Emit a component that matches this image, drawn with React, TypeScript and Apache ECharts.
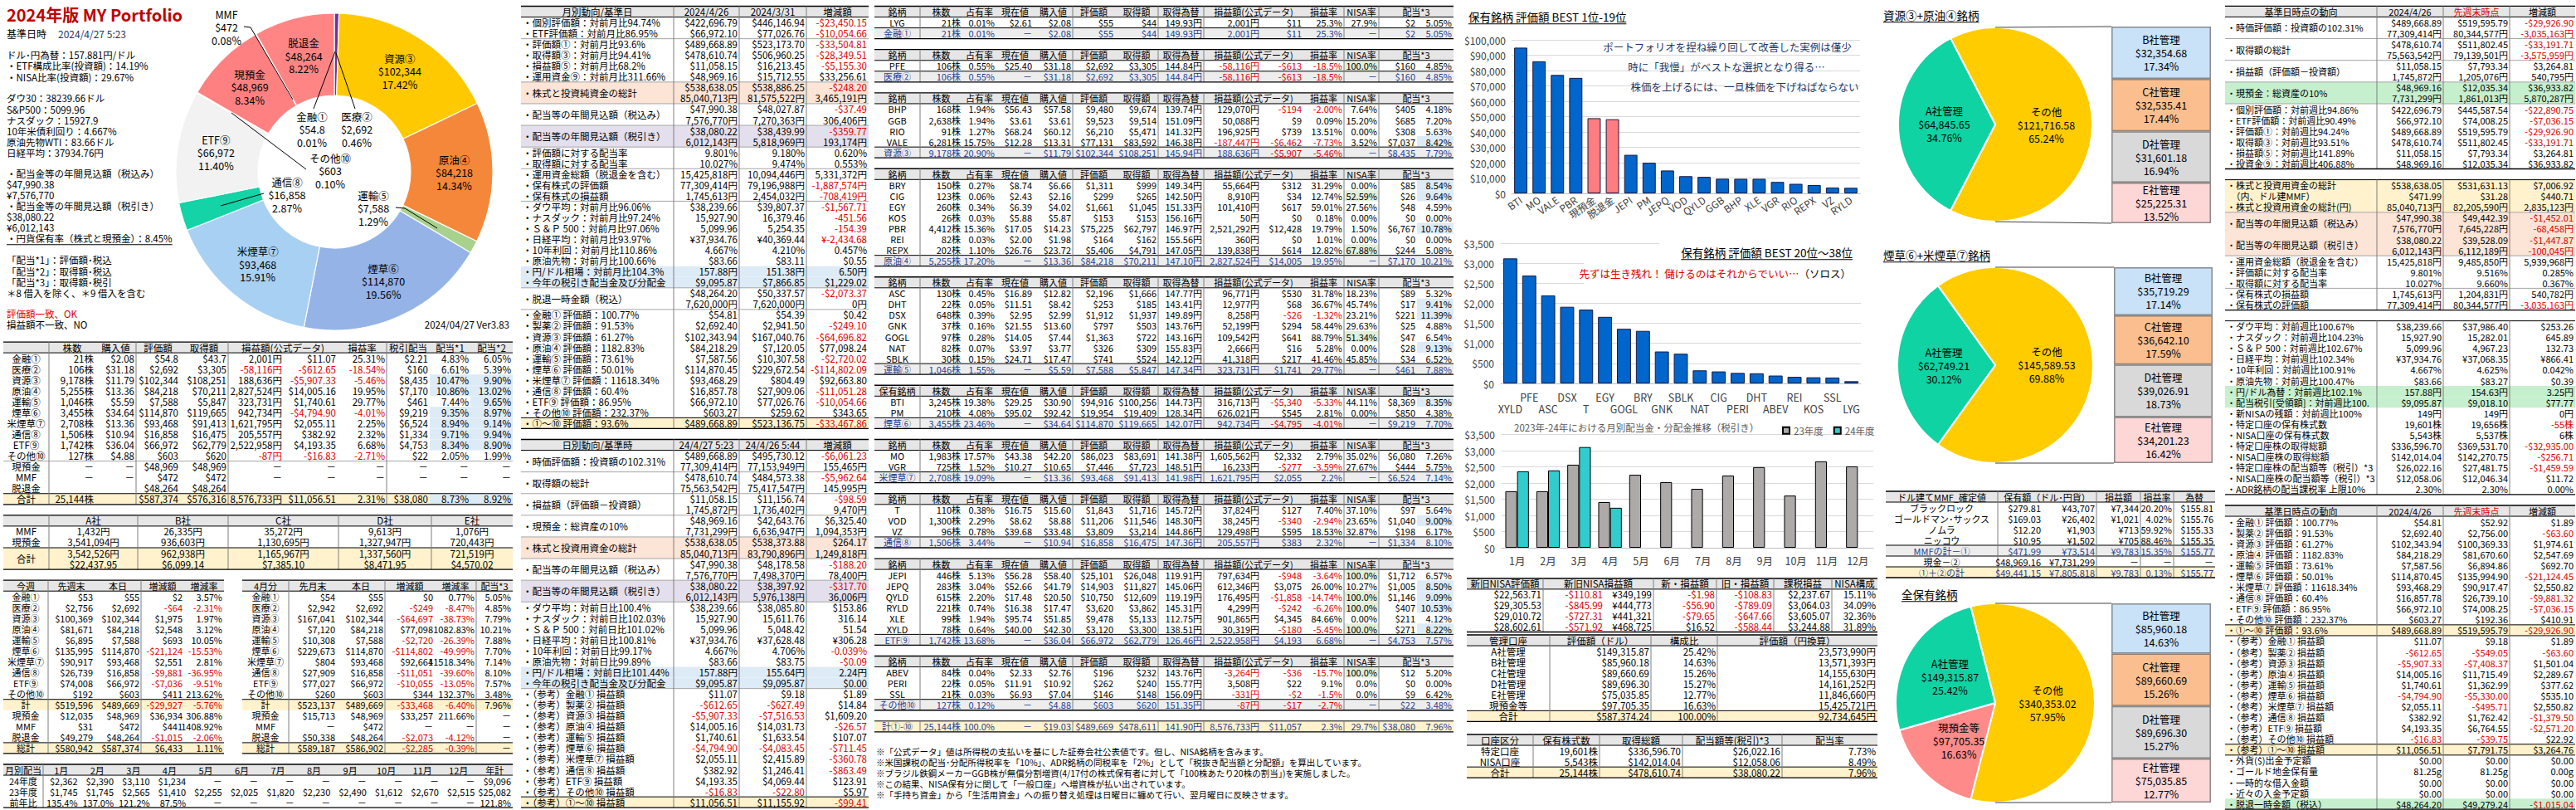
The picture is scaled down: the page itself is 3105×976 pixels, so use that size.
import React, { useEffect, useRef } from "react";
import * as echarts from "echarts";

// ================= DATA =================
const donutNames = ["金融①", "医療②", "資源③", "原油④", "運輸⑤", "煙草⑥", "米煙草⑦", "通信⑧", "ETF⑨", "その他⑩", "現預金", "MMF", "脱退金"];
const donutValues = [54.8, 2692, 102344, 84218, 7588, 114870, 93468, 16858, 66972, 603, 48969, 472, 48264];
const donutColors = ["#2E75B6", "#7030A0", "#FFC900", "#F5873A", "#A9D18E", "#95B3E6", "#A8D0F3", "#14D3A7", "#F2F2F2", "#BFBFBF", "#FF8080", "#FF8080", "#FF8585"];
const donutOutside = ["金融①", "医療②", "運輸⑤", "通信⑧", "その他⑩", "MMF"];

const best1Names = ["BTI", "MO", "VALE", "PBR", "現預金", "脱退金", "JEPI", "PM", "JEPQ", "VOD", "QYLD", "GGB", "BHP", "XLE", "VGR", "RIO", "REPX", "VZ", "RYLD"];
const best1Values = [94916, 86023, 77131, 75225, 48969, 48264, 25101, 19954, 14903, 11206, 10750, 9523, 9480, 9478, 7446, 6210, 5406, 3809, 3620];
const best1Cash = ["現預金", "脱退金"];
const best2Names = ["XYLD", "PFE", "ASC", "DSX", "T", "EGY", "GOGL", "BRY", "GNK", "SBLK", "NAT", "CIG", "PERI", "DHT", "ABEV", "REI", "KOS", "SSL", "LYG"];
const best2Values = [3120, 2692, 2196, 1912, 1843, 1661, 1363, 1311, 797, 741, 326, 299, 262, 253, 196, 164, 153, 146, 55];

const months = ["1月", "2月", "3月", "4月", "5月", "6月", "7月", "8月", "9月", "10月", "11月", "12月"];
const div23 = [1745, 1745, 2565, 1410, 2255, 2025, 1820, 2230, 2490, 1612, 2670, 2515];
const div24 = [2362, 2390, 3110, 1234];

const boxNames = ["B社管理", "C社管理", "D社管理", "E社管理"];
const pie1Names = ["その他", "A社管理"];
const pie1Values = [121716.58, 64845.65];
const box1Values = [32354.68, 32535.41, 31601.18, 25225.31];
const pie2Names = ["その他", "A社管理"];
const pie2Values = [145589.53, 62749.21];
const box2Values = [35719.29, 36642.1, 39026.91, 34201.23];
const pie3Names = ["その他", "現預金等", "A社管理"];
const pie3Values = [340353.02, 97705.35, 149315.87];
const box3Values = [85960.18, 89660.69, 89696.3, 75035.85];
const usdJpy = 157.88;

// ================= STYLE HELPERS =================
const FONT = "'Noto Sans CJK JP', 'Noto Sans', sans-serif";
const RED = "#E00000";
const NAVY = "#1F3F8F";
const GRAY = "#E7E6E6";
const YEL = "#FFF2CC";
const ORG = "#FCE4D6";
const PUR = "#E4DFEC";
const BLU = "#DDEBF7";
const GRN = "#C6EFCE";
const SUB = "#EDEDED";
const LG = "#A6A6A6";
const RH = 13.05;
const rowY = (k: number) => 7.5 + RH * k;

let mctx: any = null;
function textW(t: string, fs: number, bold = false) {
  if (!mctx) mctx = document.createElement("canvas").getContext("2d");
  mctx.font = `${bold ? "bold " : ""}${fs}px ${FONT}`;
  return mctx.measureText(t).width;
}
function T(text: string, x: number, y: number, align: string, fill: string, fs: number, o: any = {}) {
  const style: any = {
    text, fill, font: `${o.bold ? "bold " : ""}${fs}px ${FONT}`,
    align, verticalAlign: "middle", textAlign: align, textVerticalAlign: "middle",
  };
  if (o.w) { style.width = o.w; style.overflow = "truncate"; style.ellipsis = ""; }
  return { type: "text", x, y, z: o.z ?? 10, silent: true, style };
}
const Rc = (x: number, y: number, w: number, h: number, fill: string, z = 1) => ({ type: "rect", silent: true, z, shape: { x, y, width: w, height: h }, style: { fill } });
const Ln = (x1: number, y1: number, x2: number, y2: number, stroke: string, lw = 1, z = 5) => ({ type: "line", silent: true, z, shape: { x1, y1, x2, y2 }, style: { stroke, lineWidth: lw } });
const PL = (pts: number[][]) => ({ type: "polyline", silent: true, z: 6, shape: { points: pts }, style: { stroke: "#000", lineWidth: 1, fill: null } });
function UT(text: string, x: number, y: number, fs: number, color = "#000") {
  const w = textW(text, fs);
  return [T(text, x, y, "left", color, fs), Ln(x, y + fs / 2 + 2, x + w, y + fs / 2 + 2, color, 1)];
}

interface Row { c: string[]; sp?: number[]; fill?: string; col?: string; h?: number; hdr?: boolean; bl?: string; tl?: string; hc?: (string | null)[]; }
const r = (s: string, o: any = {}): Row => ({ c: s.split("|"), ...o });

function tbl(cols: number[], y0: number, rh: number, rows: Row[], al: string, opt: any = {}) {
  const fs = opt.fs ?? 11.5;
  const rects: any[] = [], lines: any[] = [], texts: any[] = [];
  const xL = cols[0], xR = cols[cols.length - 1];
  let y = y0;
  for (const rw of rows) {
    const h = (rw.h ?? 1) * rh;
    if (rw.fill) rects.push(Rc(xL, y, xR - xL, h, rw.fill));
    let ci = 0;
    rw.c.forEach((raw, k) => {
      const span = rw.sp?.[k] ?? 1;
      const x1 = cols[Math.min(ci, cols.length - 1)];
      const x2 = cols[Math.min(ci + span, cols.length - 1)];
      let t = raw, f: string | undefined;
      if (t.endsWith("#g")) { t = t.slice(0, -2); f = "#E2EFDA"; }
      else if (t.endsWith("#b")) { t = t.slice(0, -2); f = BLU; }
      if (f) rects.push(Rc(x1, y, x2 - x1, h, f, 2));
      const a = rw.hdr ? "c" : (al[ci] ?? "r");
      const ls = t.split("\n");
      ls.forEach((ln, li) => {
        if (!ln) return;
        const cy = ls.length === 1 ? y + h / 2 : y + rh * (li + 0.5);
        const explicit = rw.hc && rw.hc[k];
        let color = explicit || rw.col || "#000";
        if (!explicit && /^(-|−|¥-)/.test(ln) && ln.length > 1) color = RED;
        const tx = a === "l" ? x1 + 2 : a === "c" ? (x1 + x2) / 2 : x2 - 2;
        texts.push(T(ln, tx, cy, a === "l" ? "left" : a === "c" ? "center" : "right", color, fs, a === "l" ? { w: x2 - x1 - 3 } : {}));
      });
      ci += span;
    });
    if (rw.hdr) { lines.push(Ln(xL, y, xR, y, "#000", 1.3)); lines.push(Ln(xL, y + h, xR, y + h, "#000", 1)); }
    if (rw.tl) lines.push(Ln(xL, y, xR, y, rw.tl, 1));
    if (rw.bl) lines.push(Ln(xL, y + h, xR, y + h, rw.bl, 1));
    y += h;
  }
  (opt.v || []).forEach((x: number) => lines.push(Ln(x, y0, x, y, "#7F7F7F", 1)));
  lines.push(Ln(xL, y, xR, y, "#000", 1.3));
  return [...rects, ...lines, ...texts];
}

const usd0 = (v: number) => "$" + Math.round(v).toLocaleString("en-US");
const usd2 = (v: number) => "$" + v.toLocaleString("en-US", { minimumFractionDigits: 2, maximumFractionDigits: 2 });
const donutMoney = (v: number) => (v < 100 ? "$" + v.toFixed(1) : usd0(v));

// ================= TABLE DATA =================
const underDonutRows = [
  "金融①|21株|$2.08|$54.8|$43.7|2,001円|$11.07|25.31%|$2.21|4.83%|6.05%",
  "医療②|106株|$31.18|$2,692|$3,305|-58,116円|-$612.65|-18.54%|$160|6.61%|5.39%",
  "資源③|9,178株|$11.79|$102,344|$108,251|188,636円|-$5,907.33|-5.46%|$8,435|10.47%#b|9.90%#b",
  "原油④|5,255株|$13.36|$84,218|$70,211|2,827,524円|$14,005.16|19.95%|$7,170|10.86%#b|13.02%#b",
  "運輸⑤|1,046株|$5.59|$7,588|$5,847|323,731円|$1,740.61|29.77%|$461|7.44%|9.65%#b",
  "煙草⑥|3,455株|$34.64|$114,870|$119,665|942,734円|-$4,794.90|-4.01%|$9,219|9.35%#b|8.97%#b",
  "米煙草⑦|2,708株|$13.36|$93,468|$91,413|1,621,795円|$2,055.11|2.25%|$6,524|8.94%#b|9.14%#b",
  "通信⑧|1,506株|$10.94|$16,858|$16,475|205,557円|$382.92|2.32%|$1,334|9.71%#b|9.94%#b",
  "ETF⑨|1,742株|$36.04|$66,972|$62,779|2,522,958円|$4,193.35|6.68%|$4,753|8.34%#b|8.90%#b",
  "その他⑩|127株|$4.88|$603|$620|-87円|-$16.83|-2.71%|$22|2.05%|1.99%",
  "現預金|－|－|$48,969|$48,969|－|－|－|－|－|－",
  "MMF|－|－|$472|$472|－|－|－|－|－|－",
  "脱退金|||$48,264|$48,264||||||",
];
const underDonutTotal = "合計|25,144株||$587,374|$576,316|8,576,733円|$11,056.51|2.31%|$38,080|8.73%#b|8.92%#b";
const companyCash = [
  "MMF|1,432円|26,335円|35,272円|9,613円|1,076円",
  "現預金|3,541,094円|936,603円|1,130,695円|1,327,947円|720,443円",
  "合計|3,542,526円\n$22,437.95|962,938円\n$6,099.14|1,165,967円\n$7,385.10|1,337,560円\n$8,471.95|721,519円\n$4,570.02",
];
const weeklyRows = [
  "金融①|$53|$55|$2|3.57%", "医療②|$2,756|$2,692|-$64|-2.31%", "資源③|$100,369|$102,344|$1,975|1.97%",
  "原油④|$81,671|$84,218|$2,548|3.12%", "運輸⑤|$6,895|$7,588|$693|10.05%", "煙草⑥|$135,995|$114,870|-$21,124|-15.53%",
  "米煙草⑦|$90,917|$93,468|$2,551|2.81%", "通信⑧|$26,739|$16,858|-$9,881|-36.95%", "ETF⑨|$74,008|$66,972|-$7,036|-9.51%",
  "その他⑩|$192|$603|$411|213.62%",
];
const weeklyTail = ["計|$519,596|$489,669|-$29,927|-5.76%", "現預金|$12,035|$48,969|$36,934|306.88%", "MMF|$31|$472|$441|1408.92%", "脱退金|$49,279|$48,264|-$1,015|-2.06%", "総計|$580,942|$587,374|$6,433|1.11%"];
const monthlyCatRows = [
  "金融①|$54|$55|$0|0.77%|5.05%", "医療②|$2,942|$2,692|-$249|-8.47%|4.85%", "資源③|$167,041|$102,344|-$64,697|-38.73%|7.79%",
  "原油④|$7,120|$84,218|$77,098|1082.83%|10.21%", "運輸⑤|$10,308|$7,588|-$2,720|-26.39%|7.88%", "煙草⑥|$229,673|$114,870|-$114,802|-49.99%|7.70%",
  "米煙草⑦|$804|$93,468|$92,664|11518.34%|7.14%", "通信⑧|$27,909|$16,858|-$11,051|-39.60%|8.10%", "ETF⑨|$77,027|$66,972|-$10,055|-13.05%|7.57%",
  "その他⑩|$260|$603|$344|132.37%|3.48%",
];
const monthlyCatTail = ["計|$523,137|$489,669|-$33,468|-6.40%|7.96%", "現預金|$15,713|$48,969|$33,257|211.66%|－", "MMF|－|$472|－|－|－", "脱退金|$50,338|$48,264|-$2,073|-4.12%|－", "総計|$589,187|$586,902|-$2,285|-0.39%|－"];

const midMonthly: Row[] = [
  { c: ["月別動向/基準日", "2024/4/26", "2024/3/31", "増減額"], hdr: true, fill: GRAY },
  r("・個別評価額：対前月比94.74%|$422,696.79|$446,146.94|-$23,450.15"),
  r("・ETF評価額：対前月比86.95%|$66,972.10|$77,026.76|-$10,054.66", { bl: LG }),
  r("・評価額①：対前月比93.6%|$489,668.89|$523,173.70|-$33,504.81"),
  r("・取得額③：対前月比94.41%|$478,610.74|$506,960.25|-$28,349.51"),
  r("・損益額⑤：対前月比68.2%|$11,058.15|$16,213.45|-$5,155.30"),
  r("・運用資金⑨：対前月比311.66%|$48,969.16|$15,712.55|$33,256.61", { bl: LG }),
  r("・株式と投資純資金の総計|$538,638.05\n85,040,713円|$538,886.25\n81,575,522円|-$248.20\n3,465,191円", { h: 2, fill: ORG, bl: LG }),
  r("・配当等の年間見込額（税込み）|$47,990.38\n7,576,770円|$48,027.87\n7,270,363円|-$37.49\n306,406円", { h: 2, bl: LG }),
  r("・配当等の年間見込額（税引き）|$38,080.22\n6,012,143円|$38,439.99\n5,818,969円|-$359.77\n193,174円", { h: 2, fill: PUR, bl: LG }),
  r("・評価額に対する配当率|9.801%|9.180%|0.620%"),
  r("・取得額に対する配当率|10.027%|9.474%|0.553%", { bl: LG }),
  r("・運用資金総額（脱退金を含む）|15,425,818円|10,094,446円|5,331,372円"),
  r("・保有株式の評価額|77,309,414円|79,196,988円|-1,887,574円"),
  r("・保有株式の損益額|1,745,613円|2,454,032円|-708,419円", { bl: LG }),
  r("・ダウ平均：対前月比96.06%|$38,239.66|$39,807.37|-$1,567.71"),
  r("・ナスダック：対前月比97.24%|15,927.90|16,379.46|-451.56"),
  r("・Ｓ＆Ｐ 500：対前月比97.06%|5,099.96|5,254.35|-154.39"),
  r("・日経平均：対前月比93.97%|¥37,934.76|¥40,369.44|¥-2,434.68"),
  r("・10年利回：対前月比110.86%|4.667%|4.210%|0.457%"),
  r("・原油先物：対前月比100.66%|$83.66|$83.11|$0.55"),
  r("・円/ドル相場：対前月比104.3%|157.88円|151.38円|6.50円", { fill: BLU }),
  r("・今年の税引き配当金及び分配金|$9,095.87|$7,866.85|$1,229.02", { fill: BLU, bl: LG }),
  r("・脱退一時金額（税込）|$48,264.20\n7,620,000円|$50,337.57\n7,620,000円|-$2,073.37\n0円", { h: 2, bl: LG }),
  r("・金融① 評価額：100.77%|$54.81|$54.39|$0.42"),
  r("・製薬② 評価額：91.53%|$2,692.40|$2,941.50|-$249.10"),
  r("・資源③ 評価額：61.27%|$102,343.94|$167,040.76|-$64,696.82"),
  r("・原油④ 評価額：1182.83%|$84,218.29|$7,120.05|$77,098.24"),
  r("・運輸⑤ 評価額：73.61%|$7,587.56|$10,307.58|-$2,720.02"),
  r("・煙草⑥ 評価額：50.01%|$114,870.45|$229,672.54|-$114,802.09"),
  r("・米煙草⑦ 評価額：11618.34%|$93,468.29|$804.49|$92,663.80"),
  r("・通信⑧ 評価額：60.4%|$16,857.78|$27,909.06|-$11,051.28"),
  r("・ETF⑨ 評価額：86.95%|$66,972.10|$77,026.76|-$10,054.66"),
  r("・その他⑩ 評価額：232.37%|$603.27|$259.62|$343.65"),
  r("・①～⑩ 評価額：93.6%|$489,668.89|$523,136.75|-$33,467.86", { fill: YEL, tl: "#000" }),
];
const midDaily: Row[] = [
  { c: ["日別動向/基準時", "24/4/27 5:23", "24/4/26 5:44", "増減額"], hdr: true, fill: GRAY },
  r("・時価評価額：投資額の102.31%|$489,668.89\n77,309,414円|$495,730.12\n77,153,949円|-$6,061.23\n155,465円", { h: 2, bl: LG }),
  r("・取得額の総計|$478,610.74\n75,563,542円|$484,573.38\n75,417,547円|-$5,962.64\n145,995円", { h: 2, bl: LG }),
  r("・損益額（評価額－投資額）|$11,058.15\n1,745,872円|$11,156.74\n1,736,402円|-$98.59\n9,470円", { h: 2, bl: LG }),
  r("・現預金：総資産の10%|$48,969.16\n7,731,299円|$42,643.76\n6,636,947円|$6,325.40\n1,094,353円", { h: 2, bl: LG }),
  r("・株式と投資用資金の総計|$538,638.05\n85,040,713円|$538,373.88\n83,790,896円|$264.17\n1,249,818円", { h: 2, fill: ORG, bl: LG }),
  r("・配当等の年間見込額（税込み）|$47,990.38\n7,576,770円|$48,178.58\n7,498,370円|-$188.20\n78,400円", { h: 2, bl: LG }),
  r("・配当等の年間見込額（税引き）|$38,080.22\n6,012,143円|$38,397.92\n5,976,138円|-$317.70\n36,006円", { h: 2, fill: PUR, bl: LG }),
  r("・ダウ平均：対前日比100.4%|$38,239.66|$38,085.80|$153.86"),
  r("・ナスダック：対前日比102.03%|15,927.90|15,611.76|316.14"),
  r("・Ｓ＆Ｐ 500：対前日比101.02%|5,099.96|5,048.42|51.54"),
  r("・日経平均：対前日比100.81%|¥37,934.76|¥37,628.48|¥306.28"),
  r("・10年利回：対前日比99.17%|4.667%|4.706%|-0.039%"),
  r("・原油先物：対前日比99.89%|$83.66|$83.75|-$0.09"),
  r("・円/ドル相場：対前日比101.44%|157.88円|155.64円|2.24円", { fill: BLU }),
  r("・今年の税引き配当金及び分配金|$9,095.87|$9,095.87|$0.00", { fill: BLU, bl: LG }),
  r("・（参考）金融① 損益額|$11.07|$9.18|$1.89"),
  r("・（参考）製薬② 損益額|-$612.65|-$627.49|$14.84"),
  r("・（参考）資源③ 損益額|-$5,907.33|-$7,516.53|$1,609.20"),
  r("・（参考）原油④ 損益額|$14,005.16|$14,031.73|-$26.57"),
  r("・（参考）運輸⑤ 損益額|$1,740.61|$1,633.54|$107.07"),
  r("・（参考）煙草⑥ 損益額|-$4,794.90|-$4,083.45|-$711.45"),
  r("・（参考）米煙草⑦ 損益額|$2,055.11|$2,415.89|-$360.78"),
  r("・（参考）通信⑧ 損益額|$382.92|$1,246.41|-$863.49"),
  r("・（参考）ETF⑨ 損益額|$4,193.35|$4,069.44|$123.91"),
  r("・（参考）その他⑩ 損益額|-$16.83|-$22.80|$5.97"),
  r("・（参考）①～⑩ 損益額|$11,056.51|$11,155.92|-$99.41", { fill: YEL, tl: "#000" }),
];

const STK_COLS = [1054, 1109, 1160, 1201, 1246, 1293, 1344, 1396, 1451, 1520, 1571, 1620, 1662, 1708, 1752];
const STK_HDR = ["銘柄", "株数", "占有率", "現在値", "購入値", "評価額", "取得額", "取得為替", "損益額(公式データ)", "損益率", "NISA率", "配当*3"];
const STK_SP = [1, 1, 1, 1, 1, 1, 1, 1, 2, 1, 1, 2];
const stkFinance = [
  "LYG|21株|0.01%|$2.61|$2.08|$55|$44|149.93円|2,001円|$11|25.3%|27.9%|$2|5.05%",
  "金融①|21株|0.01%|－|$2.08|$55|$44|149.93円|2,001円|$11|25.3%|－|$2|5.05%"];
const stkHealth = [
  "PFE|106株|0.55%|$25.40|$31.18|$2,692|$3,305|144.84円|-58,116円|-$613|-18.5%|100.0%#g|$160|4.85%",
  "医療②|106株|0.55%|－|$31.18|$2,692|$3,305|144.84円|-58,116円|-$613|-18.5%|－|$160|4.85%"];
const stkResource = [
  "BHP|168株|1.94%|$56.43|$57.58|$9,480|$9,674|139.74円|129,070円|-$194|-2.00%|7.64%|$405|4.18%",
  "GGB|2,638株|1.94%|$3.61|$3.61|$9,523|$9,514|151.09円|50,088円|$9|0.09%|15.20%|$685|7.20%",
  "RIO|91株|1.27%|$68.24|$60.12|$6,210|$5,471|141.32円|196,925円|$739|13.51%|0.00%|$308|5.63%",
  "VALE|6,281株|15.75%|$12.28|$13.31|$77,131|$83,592|146.38円|-187,447円|-$6,462|-7.73%|3.52%|$7,037|8.42%#b",
  "資源③|9,178株|20.90%|－|$11.79|$102,344|$108,251|145.94円|188,636円|-$5,907|-5.46%|－|$8,435|7.79%"];
const stkOil = [
  "BRY|150株|0.27%|$8.74|$6.66|$1,311|$999|149.34円|55,664円|$312|31.29%|0.00%|$85|8.54%#b",
  "CIG|123株|0.06%|$2.43|$2.16|$299|$265|142.50円|8,910円|$34|12.74%|52.59%#g|$26|9.64%#b",
  "EGY|260株|0.34%|$6.39|$4.02|$1,661|$1,045|151.33円|101,410円|$617|59.01%|27.56%|$48|4.59%",
  "KOS|26株|0.03%|$5.88|$5.87|$153|$153|156.16円|50円|$0|0.18%|0.00%|$0|0.00%",
  "PBR|4,412株|15.36%|$17.05|$14.23|$75,225|$62,797|146.97円|2,521,292円|$12,428|19.79%|1.50%|$6,767|10.78%#b",
  "REI|82株|0.03%|$2.00|$1.98|$164|$162|155.56円|360円|$0|1.01%|0.00%|$0|0.00%",
  "REPX|202株|1.10%|$26.76|$23.72|$5,406|$4,791|147.05円|139,838円|$614|12.82%|67.88%#g|$244|5.08%",
  "原油④|5,255株|17.20%|－|$13.36|$84,218|$70,211|147.10円|2,827,524円|$14,005|19.95%|－|$7,170|10.21%"];
const stkShip = [
  "ASC|130株|0.45%|$16.89|$12.82|$2,196|$1,666|147.77円|96,771円|$530|31.78%|18.23%|$89|5.32%",
  "DHT|22株|0.05%|$11.51|$8.42|$253|$185|143.41円|12,977円|$68|36.67%|45.74%|$17|9.41%#b",
  "DSX|648株|0.39%|$2.95|$2.99|$1,912|$1,937|149.89円|8,258円|-$26|-1.32%|23.21%|$221|11.39%#b",
  "GNK|37株|0.16%|$21.55|$13.60|$797|$503|143.76円|52,199円|$294|58.44%|29.63%|$25|4.88%",
  "GOGL|97株|0.28%|$14.05|$7.44|$1,363|$722|143.16円|109,542円|$641|88.79%|51.34%#g|$47|6.54%",
  "NAT|82株|0.07%|$3.97|$3.77|$326|$309|155.83円|2,666円|$16|5.28%|0.00%|$28|9.13%#b",
  "SBLK|30株|0.15%|$24.71|$17.47|$741|$524|142.12円|41,318円|$217|41.46%|45.85%|$34|6.52%",
  "運輸⑤|1,046株|1.55%|－|$5.59|$7,588|$5,847|147.34円|323,731円|$1,741|29.77%|－|$461|7.88%"];
const stkTobacco = [
  "BTI|3,245株|19.38%|$29.25|$30.90|$94,916|$100,256|144.73円|316,713円|-$5,340|-5.33%|44.11%|$8,369|8.35%#b",
  "PM|210株|4.08%|$95.02|$92.42|$19,954|$19,409|128.34円|626,021円|$545|2.81%|0.00%|$850|4.38%",
  "煙草⑥|3,455株|23.46%|－|$34.64|$114,870|$119,665|142.07円|942,734円|-$4,795|-4.01%|－|$9,219|7.70%"];
const stkUsTobacco = [
  "MO|1,983株|17.57%|$43.38|$42.20|$86,023|$83,691|141.38円|1,605,562円|$2,332|2.79%|35.02%|$6,080|7.26%",
  "VGR|725株|1.52%|$10.27|$10.65|$7,446|$7,723|148.51円|16,233円|-$277|-3.59%|27.67%|$444|5.75%",
  "米煙草⑦|2,708株|19.09%|－|$13.36|$93,468|$91,413|141.98円|1,621,795円|$2,055|2.2%|－|$6,524|7.14%"];
const stkTelecom = [
  "T|110株|0.38%|$16.75|$15.60|$1,843|$1,716|145.72円|37,824円|$127|7.40%|37.10%|$97|5.64%",
  "VOD|1,300株|2.29%|$8.62|$8.88|$11,206|$11,546|148.30円|38,245円|-$340|-2.94%|23.65%|$1,040|9.00%#b",
  "VZ|96株|0.78%|$39.68|$33.48|$3,809|$3,214|144.86円|129,498円|$595|18.53%|32.87%|$198|6.17%",
  "通信⑧|1,506株|3.44%|－|$10.94|$16,858|$16,475|147.36円|205,557円|$383|2.32%|－|$1,334|8.10%"];
const stkEtf = [
  "JEPI|446株|5.13%|$56.28|$58.40|$25,101|$26,048|119.91円|797,634円|-$948|-3.64%|100.0%#g|$1,712|6.57%",
  "JEPQ|283株|3.04%|$52.66|$41.79|$14,903|$11,827|145.06円|612,346円|$3,075|26.00%|10.27%|$1,005|8.50%#b",
  "QYLD|615株|2.20%|$17.48|$20.50|$10,750|$12,609|119.19円|176,495円|-$1,858|-14.74%|100.0%#g|$1,146|9.09%#b",
  "RYLD|221株|0.74%|$16.38|$17.47|$3,620|$3,862|145.31円|4,299円|-$242|-6.26%|100.0%#g|$407|10.53%#b",
  "XLE|99株|1.94%|$95.74|$51.85|$9,478|$5,133|112.75円|901,865円|$4,345|84.66%|0.00%|$211|4.12%",
  "XYLD|78株|0.64%|$40.00|$42.30|$3,120|$3,300|138.51円|30,319円|-$180|-5.45%|100.0%#g|$271|8.22%#b",
  "ETF⑨|1,742株|13.68%|－|$36.04|$66,972|$62,779|126.46円|2,522,958円|$4,193|6.68%|－|$4,753|7.57%"];
const stkOther = [
  "ABEV|84株|0.04%|$2.33|$2.76|$196|$232|143.76円|-3,264円|-$36|-15.7%|100.0%#g|$12|5.20%",
  "PERI|22株|0.05%|$11.91|$10.92|$262|$240|155.77円|3,508円|$22|9.1%|0.0%|$0|0.00%",
  "SSL|21株|0.03%|$6.93|$7.04|$146|$148|156.09円|-331円|-$2|-1.5%|0.0%|$9|6.42%",
  "その他⑩|127株|0.12%|－|$4.88|$603|$620|151.35円|-87円|-$17|-2.7%|－|$22|3.48%"];
const stkTotal = "計①-⑩|25,144株|100.0%|－|$19.03|$489,669|$478,611|141.90円|8,576,733円|$11,057|2.3%|29.7%|$38,080|7.96%";
const notes = [
  "※「公式データ」値は所得税の支払いを基にした証券会社公表値です。但し、NISA銘柄を含みます。",
  "※米国課税の配当･分配所得税率を「10%」、ADR銘柄の同税率を「2%」として「税抜き配当額と分配額」を算出しています。",
  "※ブラジル鉄鋼メーカーGGB株が無償分割増資(4/17付の株式保有者に対して「100株あたり20株の割当」)を実施しました。",
  "※この結果、NISA保有分に関して「一般口座」へ増資株が払い出されています。",
  "※「手持ち資金」から「生活用資金」への振り替え処理は日曜日に纏めて行い、翌月曜日に反映させます。",
];

const nisaRows = [
  "$22,563.71|-$110.81|¥349,199|-$1.98|-$108.83|$2,237.67|15.11%",
  "$29,305.53|-$845.99|¥444,773|-$56.90|-$789.09|$3,064.03|34.09%",
  "$29,010.72|-$727.31|¥441,321|-$79.65|-$647.66|$3,605.07|32.36%",
  "$28,602.61|-$571.92|¥468,725|$16.52|-$588.44|$3,244.88|31.89%",
];
const mmfRows = [
  "ブラックロック|$279.81|¥43,707|¥7,344|20.20%|$155.81",
  "ゴールドマン･サックス|$169.03|¥26,402|¥1,021|4.02%|$155.76",
  "ノムラ|$12.20|¥1,903|¥713|59.92%|$155.33",
  "ニッコウ|$10.95|¥1,502|¥705|88.46%|$155.35",
];
const mmfTotal = "MMFの計－①|$471.99|¥73,514|¥9,783|15.35%|$155.77";
const mmfCash = "現金－②|$48,969.16|¥7,731,299|－|－|－";
const mmfSum = "①＋②の計|$49,441.15|¥7,805,818|¥9,783|0.13%|$155.77";
const accountRows = [
  "特定口座|19,601株|$336,596.70|$26,022.16|7.73%",
  "NISA口座|5,543株|$142,014.04|$12,058.06|8.49%",
];
const accountTotal = "合計|25,144株|$478,610.74|$38,080.22|7.96%";

const rtA: Row[] = [
  { c: ["基準日時点の動向", "2024/4/26", "先週末時点", "増減額"], hdr: true, fill: GRAY, hc: [null, null, RED, null] },
  r("・時価評価額：投資額の102.31%|$489,668.89\n77,309,414円|$519,595.79\n80,344,577円|-$29,926.90\n-3,035,163円", { h: 2, bl: LG }),
  r("・取得額の総計|$478,610.74\n75,563,542円|$511,802.45\n79,139,501円|-$33,191.71\n-3,575,959円", { h: 2, bl: LG }),
  r("・損益額（評価額－投資額）|$11,058.15\n1,745,872円|$7,793.34\n1,205,076円|$3,264.81\n540,795円", { h: 2, bl: LG }),
  r("・現預金：総資産の10%|$48,969.16\n7,731,299円|$12,035.34\n1,861,013円|$36,933.82\n5,870,287円", { h: 2, fill: GRN, bl: LG }),
  r("・個別評価額：対前週比94.86%|$422,696.79|$445,587.54|-$22,890.75"),
  r("・ETF評価額：対前週比90.49%|$66,972.10|$74,008.25|-$7,036.15"),
  r("・評価額①：対前週比94.24%|$489,668.89|$519,595.79|-$29,926.90"),
  r("・取得額③：対前週比93.51%|$478,610.74|$511,802.45|-$33,191.71"),
  r("・損益額⑤：対前週比141.89%|$11,058.15|$7,793.34|$3,264.81"),
  r("・投資金⑨：対前週比406.88%|$48,969.16|$12,035.34|$36,933.82"),
];
const rtB: Row[] = [
  r("・株式と投資用資金の総計|$538,638.05|$531,631.13|$7,006.92", { fill: YEL, tl: "#000" }),
  r("　（内、ドル建MMF）|$471.99|$31.28|$440.71", { fill: YEL }),
  r("・株式と投資用資金の総計(円)|85,040,713円|82,205,590円|2,835,123円", { fill: YEL, bl: LG }),
  r("・配当等の年間見込額（税込み）|$47,990.38\n7,576,770円|$49,442.39\n7,645,228円|-$1,452.01\n-68,458円", { h: 2, fill: ORG }),
  r("・配当等の年間見込額（税引き）|$38,080.22\n6,012,143円|$39,528.09\n6,112,189円|-$1,447.87\n-100,045円", { h: 2, fill: ORG, bl: LG }),
  r("・運用資金総額（脱退金を含む）|15,425,818円|9,485,850円|5,939,968円"),
  r("・評価額に対する配当率|9.801%|9.516%|0.285%"),
  r("・取得額に対する配当率|10.027%|9.660%|0.367%", { bl: LG }),
  r("・保有株式の損益額|1,745,613円|1,204,831円|540,782円"),
  r("・保有株式の評価額|77,309,414円|80,344,577円|-3,035,163円"),
];
const rtC: Row[] = [
  r("・ダウ平均：対前週比100.67%|$38,239.66|$37,986.40|$253.26", { tl: "#000" }),
  r("・ナスダック：対前週比104.23%|15,927.90|15,282.01|645.89"),
  r("・Ｓ＆Ｐ 500：対前週比102.67%|5,099.96|4,967.23|132.73"),
  r("・日経平均：対前週比102.34%|¥37,934.76|¥37,068.35|¥866.41"),
  r("・10年利回：対前週比100.91%|4.667%|4.625%|0.042%"),
  r("・原油先物：対前週比100.47%|$83.66|$83.27|$0.39"),
  r("・円/ドル為替：対前週比102.1%|157.88円|154.63円|3.25円", { fill: GRN }),
  r("・配当税引[受領額]：対前週比100.9%|$9,095.87|$9,018.10|$77.77", { fill: GRN }),
  r("・新NISAの残額：対前週比100%|149円|149円|0円"),
  r("・特定口座の保有株式数|19,601株|19,656株|-55株"),
  r("・NISA口座の保有株式数|5,543株|5,537株|6株"),
  r("・特定口座株の取得総額|$336,596.70|$369,531.70|-$32,935.00"),
  r("・NISA口座株の取得総額|$142,014.04|$142,270.75|-$256.71"),
  r("・特定口座株の配当額等（税引）*3|$26,022.16|$27,481.75|-$1,459.59"),
  r("・NISA口座株の配当額等（税引）*3|$12,058.06|$12,046.34|$11.72"),
  r("・ADR銘柄の配当課税率 上限10%|2.30%|2.30%|0.00%"),
];
const rtD: Row[] = [
  { c: ["基準日時点の動向", "2024/4/26", "先週末時点", "増減額"], hdr: true, fill: GRAY, hc: [null, null, RED, null] },
  r("・金融① 評価額：100.77%|$54.81|$52.92|$1.89"),
  r("・製薬② 評価額：91.53%|$2,692.40|$2,756.00|-$63.60"),
  r("・資源③ 評価額：61.27%|$102,343.94|$100,369.33|$1,974.61"),
  r("・原油④ 評価額：1182.83%|$84,218.29|$81,670.60|$2,547.69"),
  r("・運輸⑤ 評価額：73.61%|$7,587.56|$6,894.86|$692.70"),
  r("・煙草⑥ 評価額：50.01%|$114,870.45|$135,994.90|-$21,124.45"),
  r("・米煙草⑦ 評価額：11618.34%|$93,468.29|$90,917.47|$2,550.82"),
  r("・通信⑧ 評価額：60.4%|$16,857.78|$26,739.10|-$9,881.32"),
  r("・ETF⑨ 評価額：86.95%|$66,972.10|$74,008.25|-$7,036.15"),
  r("・その他⑩ 評価額：232.37%|$603.27|$192.36|$410.91"),
  r("・①～⑩ 評価額：93.6%|$489,668.89|$519,595.79|-$29,926.90", { fill: YEL, tl: "#000", bl: "#000" }),
  r("・（参考）金融① 損益額|$11.07|$9.18|$1.89"),
  r("・（参考）製薬② 損益額|-$612.65|-$549.05|-$63.60"),
  r("・（参考）資源③ 損益額|-$5,907.33|-$7,408.37|$1,501.04"),
  r("・（参考）原油④ 損益額|$14,005.16|$11,715.49|$2,289.67"),
  r("・（参考）運輸⑤ 損益額|$1,740.61|$1,362.99|$377.62"),
  r("・（参考）煙草⑥ 損益額|-$4,794.90|-$5,330.00|$535.10"),
  r("・（参考）米煙草⑦ 損益額|$2,055.11|-$495.71|$2,550.82"),
  r("・（参考）通信⑧ 損益額|$382.92|$1,762.42|-$1,379.50"),
  r("・（参考）ETF⑨ 損益額|$4,193.35|$6,764.55|-$2,571.20"),
  r("・（参考）その他⑩ 損益額|-$16.83|-$39.75|$22.92"),
  r("・（参考）①～⑩ 損益額|$11,056.51|$7,791.75|$3,264.76", { fill: YEL, tl: "#000", bl: "#000" }),
  r("・外貨($)出金予定額|$0.00|$0.00|$0.00"),
  r("・ゴールド地金保有量|81.25g|81.25g|0.00g"),
  r("・一時的な借入金額|$0.00|$0.00|$0.00"),
  r("・近々の入金予定額|$0.00|$0.00|$0.00"),
  r("・脱退一時金額（税込）|$48,264.20|$49,279.24|-$1,015.04", { fill: GRN }),
];

const infoLines: [string, number, string?][] = [
  ["ドル･円為替：157.881円/ドル", 66], ["・ETF構成比率(投資額)：14.19%", 79], ["・NISA比率(投資額)：29.67%", 93],
  ["ダウ30：38239.66ドル", 118], ["S&P500：5099.96", 132], ["ナスダック：15927.9", 145], ["10年米債利回り：4.667%", 158],
  ["原油先物WTI：83.66ドル", 171], ["日経平均：37934.76円", 184],
  ["・配当金等の年間見込額（税込み）", 209], ["$47,990.38", 222], ["¥7,576,770", 235],
  ["・配当金等の年間見込額（税引き）", 248], ["$38,080.22", 261], ["¥6,012,143", 274],
  ["「配当*1」：評価額･税込", 313], ["「配当*2」：取得額･税込", 327], ["「配当*3」：取得額･税引", 340],
  ["＊8 借入を除く、＊9 借入を含む", 353], ["評価額一致、OK", 378, RED], ["損益額不一致、NO", 391],
];

// ================= BUILD GRAPHIC =================
function buildGraphic() {
  const els: any[] = [];
  // title + info
  els.push(T("2024年版 MY Portfolio", 8, 17, "left", "#C00000", 20, { bold: true }));
  els.push(T("基準日時", 8, 40, "left", "#000", 12));
  els.push(T("2024/4/27 5:23", 70, 40, "left", "#1F3864", 12));
  infoLines.forEach(([t, y, c]) => els.push(T(t, 8, y, "left", c || "#000", 11.5)));
  els.push(...UT("・円貨保有率（株式と現預金）：8.45%", 8, 287, 11.5));
  els.push(T("2024/04/27 Ver3.83", 614, 391, "right", "#000", 11.5));

  // donut external labels
  const dsum = donutValues.reduce((a, b) => a + b, 0);
  const ext: Record<string, { x: number; y: number; line: number[][] }> = {
    "MMF": { x: 273, y: 17, line: [[294, 32], [302, 33], [353, 120]] },
    "金融①": { x: 376, y: 140, line: [[378, 131], [404, 62]] },
    "医療②": { x: 430, y: 140, line: [[428, 131], [405, 64]] },
    "その他⑩": { x: 398, y: 190, line: [[369, 204], [279, 136]] },
    "通信⑧": { x: 346, y: 219, line: [[318, 233], [266, 248]] },
    "運輸⑤": { x: 450, y: 235, line: [[477, 250], [488, 251], [527, 275]] },
  };
  donutOutside.forEach((n) => {
    const i = donutNames.indexOf(n);
    const p = ext[n];
    const lines = [n, donutMoney(donutValues[i]), ((donutValues[i] / dsum) * 100).toFixed(2) + "%"];
    lines.forEach((l, j) => els.push(T(l, p.x, p.y + j * 15.5, "center", "#000", 12.5)));
    els.push(PL(p.line));
  });

  // table under donut
  const udCols = [4, 59, 115, 164, 217, 275, 342, 407, 466, 518, 567, 618];
  const udRows: Row[] = [
    { c: ["", "株数", "購入値", "評価額", "取得額", "損益額(公式データ)", "損益率", "税引配当", "配当*1", "配当*2"], sp: [1, 1, 1, 1, 1, 2, 1, 1, 1, 1], hdr: true, fill: GRAY },
    ...underDonutRows.map((s, i) => r(s, i === 9 ? { bl: LG } : {})),
    r(underDonutTotal, { fill: YEL, tl: "#000" }),
  ];
  els.push(...tbl(udCols, rowY(31), RH, udRows, "crrrrrrrrrr", { fs: 11.5, v: [59, 164, 275, 466] }));
  const coCols = [4, 59, 166, 275, 408, 520, 618];
  const coRows: Row[] = [
    { c: ["", "A社", "B社", "C社", "D社", "E社"], hdr: true, fill: GRAY },
    r(companyCash[0]), r(companyCash[1]), r(companyCash[2], { h: 2, fill: YEL, tl: "#000" }),
  ];
  els.push(...tbl(coCols, rowY(47), RH, coRows, "cccccc", { fs: 11.5, v: [59, 166, 275, 408, 520] }));

  // lower-left weekly / monthly
  const wCols = [4, 58, 114, 170, 222, 270];
  const wRows: Row[] = [
    { c: ["今週", "先週末", "本日", "増減額", "増減率"], hdr: true, fill: GRAY },
    ...weeklyRows.map((s) => r(s)),
    r(weeklyTail[0], { fill: YEL, tl: "#000" }), r(weeklyTail[1]), r(weeklyTail[2]), r(weeklyTail[3]),
    r(weeklyTail[4], { fill: YEL, tl: "#000" }),
  ];
  els.push(...tbl(wCols, rowY(53), RH, wRows, "crrrr", { fs: 11, v: [58, 170] }));
  const mCols = [292, 348, 406, 464, 524, 574, 618];
  const mRows: Row[] = [
    { c: ["4月分", "先月末", "本日", "増減額", "増減率", "配当*3"], hdr: true, fill: GRAY },
    ...monthlyCatRows.map((s) => r(s)),
    r(monthlyCatTail[0], { fill: YEL, tl: "#000" }), r(monthlyCatTail[1]), r(monthlyCatTail[2]), r(monthlyCatTail[3]),
    r(monthlyCatTail[4], { fill: YEL, tl: "#000" }),
  ];
  els.push(...tbl(mCols, rowY(53), RH, mRows, "crrrrr", { fs: 11, v: [348, 464, 574] }));
  // yearly dividend table from monthly arrays
  const yc = [4, 52];
  for (let i = 1; i <= 13; i++) yc.push(52 + (i * 566) / 13);
  const sum24 = div24.reduce((a, b) => a + b, 0);
  const sum23 = div23.reduce((a, b) => a + b, 0);
  const sum23ytd = div23.slice(0, div24.length).reduce((a, b) => a + b, 0);
  const fmt$ = (v: number) => "$" + v.toLocaleString("en-US");
  const yRows: Row[] = [
    { c: ["月別配当", ...months, "年計"], hdr: true, fill: GRAY },
    { c: ["24年度", ...months.map((_, i) => (i < div24.length ? fmt$(div24[i]) : "－")), fmt$(sum24)] },
    { c: ["23年度", ...div23.map(fmt$), fmt$(sum23)] },
    { c: ["前年比", ...months.map((_, i) => (i < div24.length ? ((div24[i] / div23[i]) * 100).toFixed(1) + "%" : "－")), ((sum24 / sum23ytd) * 100).toFixed(1) + "%"] },
  ];
  els.push(...tbl(yc, rowY(70), RH, yRows, "crrrrrrrrrrrrr", { fs: 11, v: [52] }));

  // middle column
  els.push(...tbl([628, 812, 891, 972, 1047], rowY(0), RH, midMonthly, "lrrr", { fs: 11.5, v: [812, 891, 972] }));
  els.push(...tbl([628, 812, 891, 972, 1047], rowY(40), RH, midDaily, "lrrr", { fs: 11.5, v: [812, 891, 972] }));

  const stk = (k: number, rows: string[], first = "銘柄") => {
    const hdr: Row = { c: [first, ...STK_HDR.slice(1)], sp: STK_SP, hdr: true, fill: GRAY };
    const body: Row[] = rows.map((s, i) => (i === rows.length - 1 ? r(s, { fill: SUB, col: NAVY, tl: "#000" }) : r(s)));
    els.push(...tbl(STK_COLS, rowY(k), RH, [hdr, ...body], "crrrrrrrrrrrrr", { fs: 11, v: [1109, 1293, 1396, 1451, 1620, 1662] }));
  };
  stk(0, stkFinance); stk(4, stkHealth); stk(8, stkResource); stk(15, stkOil); stk(25, stkShip);
  stk(35, stkTobacco, "保有銘柄"); stk(40, stkUsTobacco); stk(45, stkTelecom); stk(51, stkEtf); stk(60, stkOther);
  els.push(...tbl(STK_COLS, rowY(66), RH, [r(stkTotal, { fill: YEL, col: NAVY, tl: "#000" })], "crrrrrrrrrrrrr", { fs: 11, v: [1109, 1293, 1396, 1451, 1620, 1662] }));
  notes.forEach((n, i) => els.push(T(n, 1056, 905 + i * 13.05, "left", "#000", 10.5)));

  // chart annotations
  els.push(...UT("保有銘柄 評価額 BEST 1位-19位", 1770, 20, 13.5));
  els.push(T("ポートフォリオを捏ね繰り回して改善した実例は僅少", 2082, 56, "center", "#1F3864", 12.5));
  els.push(T("時に「我慢」がベストな選択となり得る…", 2081, 80, "center", "#1F3864", 12.5));
  els.push(T("株価を上げるには、一旦株価を下げねばならない", 2103, 104, "center", "#1F3864", 12.5));
  els.push(Rc(2000, 286, 246, 14, "#fff", 1));
  els.push(Rc(1909, 300, 337, 52, "#fff", 1));
  const t2 = "保有銘柄 評価額 BEST 20位～38位";
  const t2w = textW(t2, 13.5);
  els.push(...UT(t2, 2233 - t2w, 304, 13.5));
  els.push(T("（ソロス）", 2231, 329, "right", "#000", 12.5));
  els.push(T("先ずは生き残れ！ 儲けるのはそれからでいい…", 2231 - textW("（ソロス）", 12.5), 329, "right", RED, 12.5));
  els.push(T("2023年-24年における月別配当金・分配金推移（税引き）", 1825, 515, "left", "#595959", 11.5));

  // NISA table
  const nCols = [1768, 1860, 1934, 1993, 2069, 2138, 2208, 2263];
  const nRows: Row[] = [
    { c: ["新旧NISA評価額", "新旧NISA損益額", "新・損益額", "旧・損益額", "課税損益", "NISA構成"], sp: [1, 2, 1, 1, 1, 1], hdr: true, fill: GRAY },
    ...nisaRows.map((s) => r(s)),
  ];
  els.push(...tbl(nCols, 697, 12.9, nRows, "rrrrrrr", { fs: 11.5, v: [1860, 1993, 2069, 2138, 2208] }));

  // company table derived from pie data
  const tot3 = pie3Values.reduce((a, b) => a + b, 0);
  const compNames = [pie3Names[2], ...boxNames, pie3Names[1]];
  const compVals = [pie3Values[2], ...box3Values, pie3Values[1]];
  const cRows: Row[] = [
    { c: ["管理口座", "評価額（ドル）", "構成比", "評価額（円換算）"], hdr: true, fill: GRAY },
    ...compNames.map((n, i) => ({ c: [n, usd2(compVals[i]), ((compVals[i] / tot3) * 100).toFixed(2) + "%", Math.round(compVals[i] * usdJpy).toLocaleString("en-US") + "円"] })),
    { c: ["合計", usd2(tot3), "100.00%", Math.round(tot3 * usdJpy).toLocaleString("en-US") + "円"], fill: YEL, tl: "#000" },
  ];
  els.push(...tbl([1768, 1868, 1990, 2070, 2263], 765, RH, cRows, "crrr", { fs: 11.5, v: [1868, 1990, 2070] }));
  const aRows: Row[] = [
    { c: ["口座区分", "保有株式数", "取得総額", "配当額等(税引)*3", "配当率"], hdr: true, fill: GRAY },
    ...accountRows.map((s) => r(s)),
    r(accountTotal, { fill: YEL, tl: "#000" }),
  ];
  els.push(...tbl([1768, 1848, 1928, 2028, 2148, 2263], 885, RH, aRows, "crrrr", { fs: 11.5, v: [1848, 1928, 2028, 2148] }));

  // MMF table
  const mmfCols = [2273, 2408, 2462, 2527, 2580, 2620, 2670];
  const mmRows: Row[] = [
    { c: ["ドル建てMMF_確定値", "保有額（ドル･円貨）", "損益額", "損益率", "為替"], sp: [1, 2, 1, 1, 1], hdr: true, fill: GRAY },
    ...mmfRows.map((s) => r(s)),
    r(mmfTotal, { fill: SUB, col: NAVY, tl: "#000", bl: "#000" }),
    r(mmfCash),
    r(mmfSum, { fill: YEL, col: NAVY, tl: "#000" }),
  ];
  els.push(...tbl(mmfCols, 592, 13, mmRows, "crrrrr", { fs: 11, v: [2408, 2527, 2580, 2620] }));

  // pie titles and series lines
  els.push(...UT("資源③+原油④銘柄", 2270, 18, 13.5));
  els.push(...UT("煙草⑥+米煙草⑦銘柄", 2270, 307, 13.5));
  els.push(...UT("全保有銘柄", 2292, 716, 13.5));
  const pl = [[2405, 33, 2545, 32], [2405, 267, 2545, 269], [2405, 322, 2548, 322], [2405, 558, 2548, 558], [2405, 727, 2545, 727], [2405, 967, 2545, 967]];
  pl.forEach((p) => els.push(Ln(p[0], p[1], p[2], p[3], "#404040", 1, 3)));

  // right-most table
  const rc = [2682, 2865, 2945, 3025, 3104];
  const rh2 = 13.08;
  const ry = (k: number) => 7.3 + rh2 * k;
  els.push(...tbl(rc, ry(0), rh2, rtA, "lrrr", { fs: 11, v: [2865, 2945, 3025] }));
  els.push(...tbl(rc, ry(16), rh2, rtB, "lrrr", { fs: 11, v: [2865, 2945, 3025] }));
  els.push(...tbl(rc, ry(29), rh2, rtC, "lrrr", { fs: 11, v: [2865, 2945, 3025] }));
  els.push(...tbl(rc, ry(46), rh2, rtD, "lrrr", { fs: 11, v: [2865, 2945, 3025] }));
  return els;
}

// ================= CHART OPTION =================
function barOfPie(p: number, pNames: string[], pVals: number[], bVals: number[], center: number[], radius: number, startAngle: number, pColors: string[]) {
  const total = pVals.reduce((a, b) => a + b, 0);
  const boxColors = ["#C9E2F8", "#FBBF8F", "#D9D9D9", "#FDD6D6"];
  const series: any[] = [
    {
      type: "pie", name: "pie" + p, silent: true, center, radius, startAngle, clockwise: true, percentPrecision: 2,
      itemStyle: { borderColor: "#ffffff", borderWidth: 2 },
      label: { show: true, position: "inside", color: "#000", fontSize: 12.5, lineHeight: 16, fontFamily: FONT,
        formatter: (q: any) => `${q.name}\n${usd2(q.value)}\n${q.percent.toFixed(2)}%` },
      labelLine: { show: false },
      data: pNames.map((n, i) => ({ name: n, value: pVals[i], itemStyle: { color: pColors[i] } })),
    },
  ];
  for (let i = bVals.length - 1; i >= 0; i--) {
    series.push({
      type: "bar", name: `box${p}-${i}`, silent: true, xAxisIndex: 3 + p, yAxisIndex: 3 + p, stack: "box" + p, barWidth: "100%",
      data: [bVals[i]],
      itemStyle: { color: boxColors[i], borderColor: "rgba(70,70,70,0.6)", borderWidth: 1.5 },
      label: { show: true, position: "inside", color: "#000", fontSize: 12.5, lineHeight: 16, fontFamily: FONT,
        formatter: `${boxNames[i]}\n${usd2(bVals[i])}\n${((bVals[i] / total) * 100).toFixed(2)}%` },
    });
  }
  return series;
}

function buildOption() {
  const axLabel = { color: "#404040", fontSize: 12, fontFamily: FONT };
  const yFmt = (v: number) => "$" + v.toLocaleString("en-US");
  const gridBase = { outerBoundsMode: "none", containLabel: false };
  const pieSeries = [
    ...barOfPie(0, pie1Names, pie1Values, box1Values, [2405, 150], 117, 117.4, ["#FFCC00", "#0FD3A3"]),
    ...barOfPie(1, pie2Names, pie2Values, box2Values, [2405, 440], 118, 125.8, ["#FFCC00", "#0FD3A3"]),
    ...barOfPie(2, pie3Names, pie3Values, box3Values, [2405, 847], 120, 104.3, ["#FFCC00", "#FF8A8A", "#0FD3A3"]),
  ];
  const boxTotals = [box1Values, box2Values, box3Values].map((b) => b.reduce((a, c) => a + c, 0));
  return {
    animation: false,
    backgroundColor: "#ffffff",
    textStyle: { fontFamily: FONT },
    legend: {
      data: ["23年度", "24年度"], left: 2143, top: 508, itemWidth: 8, itemHeight: 8, itemGap: 12, icon: "rect",
      textStyle: { fontSize: 11.5, color: "#595959", fontFamily: FONT },
    },
    grid: [
      { ...gridBase, left: 1822, top: 48, width: 420, height: 185 },
      { ...gridBase, left: 1809, top: 293, width: 434, height: 169 },
      { ...gridBase, left: 1810, top: 523.5, width: 448, height: 136.5 },
      { ...gridBase, left: 2545, top: 32, width: 120, height: 237 },
      { ...gridBase, left: 2548, top: 322, width: 119, height: 236 },
      { ...gridBase, left: 2545, top: 727, width: 120, height: 240 },
    ],
    xAxis: [
      { type: "category", gridIndex: 0, data: best1Names, axisTick: { show: false }, axisLine: { lineStyle: { color: "#BFBFBF" } },
        axisLabel: { ...axLabel, interval: 0, rotate: 35, margin: 6 } },
      { type: "category", gridIndex: 1, data: best2Names, axisTick: { show: false }, axisLine: { lineStyle: { color: "#BFBFBF" } },
        axisLabel: { ...axLabel, fontSize: 12.5, interval: 0, margin: 9, lineHeight: 14, formatter: (v: string, i: number) => (i % 2 === 0 ? "\n" + v : v) } },
      { type: "category", gridIndex: 2, data: months, axisTick: { show: false }, axisLine: { lineStyle: { color: "#BFBFBF" } },
        axisLabel: { ...axLabel, fontSize: 12.5, interval: 0, margin: 9 } },
      { type: "category", gridIndex: 3, data: [""], show: false },
      { type: "category", gridIndex: 4, data: [""], show: false },
      { type: "category", gridIndex: 5, data: [""], show: false },
    ],
    yAxis: [
      { type: "value", gridIndex: 0, min: 0, max: 100000, interval: 10000, axisLabel: { ...axLabel, formatter: yFmt, margin: 7 },
        splitLine: { lineStyle: { color: "#D9D9D9" } }, axisLine: { show: false }, axisTick: { show: false } },
      { type: "value", gridIndex: 1, min: 0, max: 3500, interval: 500, axisLabel: { ...axLabel, formatter: yFmt, margin: 8 },
        splitLine: { lineStyle: { color: "#D9D9D9" } }, axisLine: { show: false }, axisTick: { show: false } },
      { type: "value", gridIndex: 2, min: 0, max: 3500, interval: 500, axisLabel: { ...axLabel, formatter: yFmt, margin: 8 },
        splitLine: { lineStyle: { color: "#D9D9D9" } }, axisLine: { show: false }, axisTick: { show: false } },
      ...boxTotals.map((t, i) => ({ type: "value", gridIndex: 3 + i, min: 0, max: t, show: false })),
    ],
    series: [
      {
        type: "pie", name: "donut", silent: true, center: [403, 207], radius: [92, 191], startAngle: 90, clockwise: true,
        percentPrecision: 2, avoidLabelOverlap: false,
        itemStyle: { borderColor: "rgba(255,255,255,0.9)", borderWidth: 1.2 },
        label: { show: true, position: "inside", color: "#000", fontSize: 12.5, lineHeight: 15.5, fontFamily: FONT,
          formatter: (p: any) => `${p.name}\n${donutMoney(p.value)}\n${p.percent.toFixed(2)}%` },
        labelLine: { show: false },
        data: donutNames.map((n, i) => ({
          name: n, value: donutValues[i], itemStyle: { color: donutColors[i] },
          ...(donutOutside.includes(n) ? { label: { show: false } } : {}),
        })),
      },
      {
        type: "bar", name: "best1", silent: true, xAxisIndex: 0, yAxisIndex: 0, barCategoryGap: "28%",
        data: best1Values.map((v, i) => ({ value: v, itemStyle: { color: best1Cash.includes(best1Names[i]) ? "#FF7C80" : "#0066CC" } })),
        itemStyle: { borderColor: "#1a1a40", borderWidth: 1 },
      },
      {
        type: "bar", name: "best2", silent: true, xAxisIndex: 1, yAxisIndex: 1, barCategoryGap: "26%",
        data: best2Values, itemStyle: { color: "#0066CC", borderColor: "#1a1a40", borderWidth: 1 },
      },
      {
        type: "bar", name: "23年度", silent: true, xAxisIndex: 2, yAxisIndex: 2, barGap: "0%", barCategoryGap: "24%",
        data: div23, itemStyle: { color: "#AEAAAA", borderColor: "#000", borderWidth: 1 },
      },
      {
        type: "bar", name: "24年度", silent: true, xAxisIndex: 2, yAxisIndex: 2, barGap: "0%", barCategoryGap: "24%",
        data: div24, itemStyle: { color: "#33CCCC", borderColor: "#000", borderWidth: 1 },
      },
      ...pieSeries,
    ],
    graphic: { elements: buildGraphic() },
  };
}

export default function App() {
  const ref = useRef<HTMLDivElement>(null);
  useEffect(() => {
    document.body.style.margin = "0";
    document.body.style.background = "#ffffff";
    if (!ref.current) return;
    const chart = echarts.init(ref.current, undefined, { renderer: "svg" });
    chart.setOption(buildOption() as any);
    return () => chart.dispose();
  }, []);
  return <div ref={ref} style={{ width: 3105, height: 976, background: "#fff" }} />;
}
